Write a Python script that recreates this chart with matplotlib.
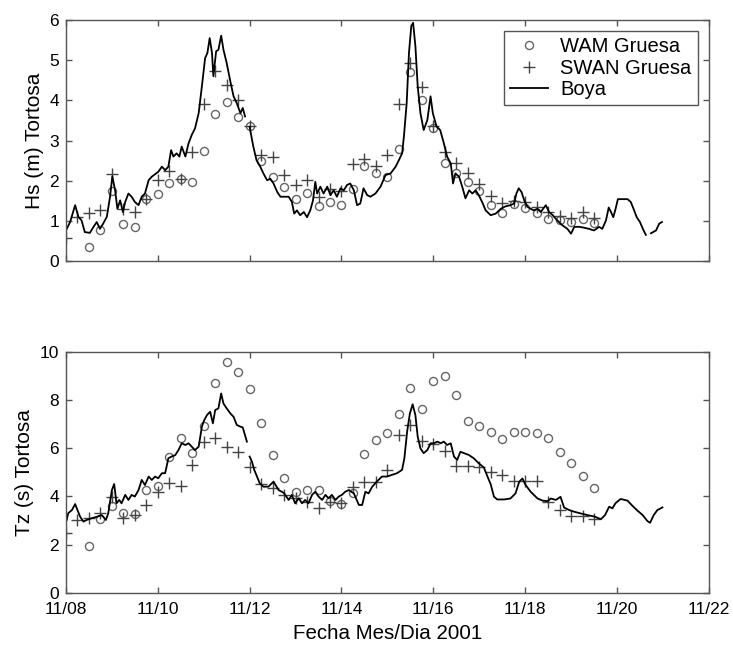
import numpy as np
import matplotlib
matplotlib.use("Agg")
import matplotlib.pyplot as plt

plt.rcParams['font.family'] = ['Liberation Sans', 'DejaVu Sans']

# ---------------- data (days since 11/08 00:00) ----------------
model_days = [0.0, 0.25, 0.5, 0.75, 1.0, 1.25, 1.5, 1.75, 2.0, 2.25, 2.5, 2.75,
              3.0, 3.25, 3.5, 3.75, 4.0, 4.25, 4.5, 4.75, 5.0, 5.25, 5.5, 5.75,
              6.0, 6.25, 6.5, 6.75, 7.0, 7.25, 7.5, 7.75, 8.0, 8.25, 8.5, 8.75,
              9.0, 9.25, 9.5, 9.75, 10.0, 10.25, 10.5, 10.75, 11.0, 11.25, 11.5]

swan_hs = [0.58, 1.1, 1.2, 1.28, 2.16, 1.3, 1.22, 1.55, 2.01, 2.25, 2.03, 2.72,
           3.9, 4.72, 4.39, 4.0, 3.36, 2.64, 2.58, 2.14, 1.88, 2.01, 1.6, 1.78,
           1.75, 2.42, 2.55, 2.36, 2.64, 3.9, 4.93, 4.33, 3.36, 2.72, 2.45, 2.2,
           1.92, 1.63, 1.45, 1.49, 1.48, 1.35, 1.23, 1.12, 1.08, 1.21, 1.07]

wam_hs = [np.nan, np.nan, 0.35, 0.76, 1.74, 0.93, 0.85, 1.55, 1.66, 1.95, 2.03, 1.97,
          2.74, 3.65, 3.97, 3.58, 3.35, 2.49, 2.1, 1.85, 1.55, 1.7, 1.37, 1.48,
          1.4, 1.79, 2.37, 2.2, 2.1, 2.8, 4.7, 4.01, 3.3, 2.43, 2.2, 1.97,
          1.74, 1.4, 1.2, 1.43, 1.33, 1.2, 1.05, 1.01, 0.97, 1.04, 0.95]

swan_tz = [2.46, 3.0, 3.09, 3.29, 3.98, 3.09, 3.22, 3.66, 4.17, 4.54, 4.43, 5.32,
           6.24, 6.42, 6.06, 5.83, 5.2, 4.52, 4.33, 4.05, 3.92, 3.78, 3.5, 3.75,
           3.72, 4.4, 4.6, 4.6, 5.1, 6.55, 6.96, 6.3, 6.17, 5.9, 5.27, 5.25,
           5.23, 5.02, 4.88, 4.62, 4.62, 4.62, 3.78, 3.43, 3.18, 3.17, 3.05]

wam_tz = [np.nan, np.nan, 1.94, 3.05, 3.6, 3.29, 3.27, 4.26, 4.43, 5.64, 6.4, 5.81,
          6.92, 8.71, 9.59, 9.14, 8.44, 7.05, 5.71, 4.76, 4.2, 4.26, 4.28, 3.8,
          3.7, 4.13, 5.74, 6.34, 6.61, 7.41, 8.48, 7.61, 8.8, 9.0, 8.2, 7.12,
          6.93, 6.68, 6.38, 6.65, 6.65, 6.64, 6.43, 5.82, 5.39, 4.84, 4.33]

buoy_hs_days = [0.0, 0.09, 0.2, 0.27, 0.34, 0.41, 0.52, 0.6, 0.67, 0.74, 0.81, 0.89,
                0.96, 1.01, 1.07, 1.12, 1.18, 1.24, 1.29, 1.36, 1.43, 1.5, 1.58, 1.65,
                1.72, 1.8, 1.87, 1.94, 2.01, 2.09, 2.16, 2.23, 2.29, 2.34, 2.41, 2.47,
                2.52, 2.6, 2.67, 2.74, 2.81, 2.89, 2.96, 3.03, 3.08, 3.13, 3.18, 3.21,
                3.27, 3.32, 3.38, 3.43, 3.5, 3.58, 3.65, 3.72, 3.8, 3.85, 3.9, 3.95,
                4.0, 4.08, 4.15, 4.23, 4.3, 4.38, 4.45, 4.52, 4.6, 4.67, 4.74, 4.85,
                4.92, 4.97, 5.03, 5.1, 5.18, 5.25, 5.32, 5.38, 5.43, 5.47, 5.54, 5.61,
                5.69, 5.76, 5.83, 5.9, 5.98, 6.05, 6.12, 6.19, 6.27, 6.34, 6.41, 6.48,
                6.56, 6.63, 6.74, 6.85, 6.96, 7.07, 7.18, 7.25, 7.32, 7.36, 7.42, 7.47,
                7.52, 7.56, 7.61, 7.66, 7.72, 7.79, 7.87, 7.94, 7.99, 8.07, 8.15, 8.23,
                8.3, 8.38, 8.43, 8.48, 8.56, 8.63, 8.7, 8.78, 8.85, 8.92, 8.99, 9.07,
                9.14, 9.25, 9.36, 9.47, 9.57, 9.68, 9.76, 9.81, 9.86, 9.92, 9.98, 10.05,
                10.12, 10.19, 10.27, 10.34, 10.45, 10.52, 10.6, 10.7, 10.81, 10.92, 11.0, 11.07,
                11.18, 11.28, 11.39, 11.5, 11.61, 11.68, 11.76, 11.82, 11.87, 11.92, 11.97, 12.02,
                12.12, 12.23, 12.3, 12.36, 12.43, 12.5, 12.58, 12.63, 12.68, 12.74, 12.85, 12.92,
                12.98]
buoy_hs = [0.76, 0.97, 1.39, 1.1, 1.01, 0.72, 0.7, 0.85, 0.97, 0.8, 0.93, 1.1,
           1.6, 2.11, 1.76, 1.3, 1.51, 1.22, 1.47, 1.68, 1.6, 1.47, 1.39, 1.6,
           1.68, 2.01, 2.1, 2.16, 2.22, 2.35, 2.26, 2.35, 2.76, 2.6, 2.68, 2.6,
           2.85, 2.6, 2.93, 3.14, 3.3, 3.68, 4.35, 5.05, 5.18, 5.55, 5.18, 4.6,
           5.22, 5.26, 5.61, 5.26, 4.93, 4.47, 4.1, 3.93, 3.68, 3.81, 3.6, np.nan,
           3.34, 2.85, 2.51, 2.35, 2.18, 2.01, 2.05, 1.93, 1.72, 1.6, 1.6, 1.6,
           1.47, 1.18, 1.26, 1.14, 1.22, 1.09, 1.26, 1.51, 1.97, 1.68, 1.85, 1.68,
           1.85, 1.64, 1.76, 1.6, 1.81, 1.76, 1.89, 1.93, 1.76, 1.39, 1.43, 1.81,
           1.64, 1.6, 1.68, 1.85, 2.14, 2.18, 2.35, 2.51, 2.68, 3.1, 3.93, 5.18,
           5.85, 5.93, 5.35, 4.35, 3.68, 3.26, 3.51, 4.1, 3.68, 3.35, 3.26, 2.93,
           2.6, 2.43, 1.93, 2.18, 2.1, 1.85, 1.56, 1.76, 1.68, 1.76, 1.64, 1.45,
           1.26, 1.14, 1.18, 1.3, 1.36, 1.39, 1.43, 1.68, 1.81, 1.72, 1.51, 1.35,
           1.3, 1.26, 1.3, 1.22, 1.39, 1.22, 1.14, 1.01, 0.89, 0.8, 0.68, 0.85,
           0.85, 0.83, 0.8, 0.76, 0.85, 0.8, 1.01, 1.33, 1.22, 1.09, 1.3, 1.54,
           1.54, 1.54, 1.47, 1.3, 1.09, 0.97, 0.76, 0.65, np.nan, 0.69, 0.76, 0.93,
           0.97]

buoy_tz_days = [0.0, 0.05, 0.13, 0.2, 0.25, 0.31, 0.38, 0.45, 0.56, 0.67, 0.78, 0.87,
                0.92, 1.0, 1.05, 1.1, 1.16, 1.21, 1.29, 1.36, 1.43, 1.5, 1.58, 1.65,
                1.72, 1.8, 1.87, 1.94, 2.01, 2.09, 2.16, 2.23, 2.3, 2.38, 2.45, 2.52,
                2.6, 2.67, 2.74, 2.81, 2.89, 2.96, 3.01, 3.07, 3.14, 3.2, 3.25, 3.32,
                3.38, 3.43, 3.5, 3.58, 3.65, 3.72, 3.8, 3.85, 3.9, 3.94, 3.97, 4.0,
                4.05, 4.1, 4.16, 4.22, 4.3, 4.41, 4.52, 4.63, 4.74, 4.85, 4.92, 4.99,
                5.07, 5.14, 5.21, 5.28, 5.36, 5.43, 5.5, 5.58, 5.65, 5.72, 5.79, 5.87,
                5.94, 6.01, 6.08, 6.16, 6.27, 6.38, 6.45, 6.52, 6.59, 6.67, 6.77, 6.88,
                6.99, 7.1, 7.21, 7.32, 7.37, 7.43, 7.49, 7.55, 7.61, 7.66, 7.72, 7.79,
                7.87, 7.94, 8.01, 8.09, 8.16, 8.23, 8.3, 8.38, 8.45, 8.52, 8.59, 8.67,
                8.77, 8.88, 8.99, 9.1, 9.18, 9.25, 9.32, 9.39, 9.54, 9.68, 9.79, 9.87,
                9.94, 10.01, 10.12, 10.27, 10.38, 10.49, 10.56, 10.67, 10.77, 10.85, 10.96, 11.07,
                11.21, 11.36, 11.51, 11.65, 11.74, 11.83, 11.9, 11.97, 12.08, 12.23, 12.34, 12.45,
                12.56, 12.66, 12.72, 12.8, 12.88, 12.99]
buoy_tz = [2.9, 3.3, 3.43, 3.68, 3.43, 3.15, 2.95, 3.02, 3.09, 3.15, 3.22, 3.02,
           3.29, 4.26, 4.51, 3.71, 3.85, 3.71, 4.06, 3.85, 4.06, 3.99, 4.26, 4.68,
           4.47, 4.82, 4.68, 4.82, 4.75, 4.96, 4.96, 5.58, 5.65, 5.71, 5.92, 6.2,
           6.13, 6.2, 6.06, 5.92, 6.06, 6.89, 7.16, 7.37, 7.51, 7.03, 7.58, 7.65,
           8.27, 7.85, 7.65, 7.44, 7.3, 6.96, 6.89, 6.86, 6.54, 6.27, np.nan, 5.65,
           5.44, 5.1, 4.82, 4.54, 4.4, 4.4, 4.61, 4.26, 4.15, 3.85, 4.06, 3.71,
           3.92, 3.71, 3.85, 3.71, 4.06, 4.19, 3.99, 3.85, 4.06, 3.92, 4.06, 3.85,
           3.99, 4.06, 4.19, 4.26, 4.12, 3.64, 3.64, 4.19, 4.12, 4.4, 4.61, 4.82,
           4.82, 4.89, 4.96, 5.1, 5.58, 6.69, 7.44, 7.82, 7.37, 6.48, 5.99, 5.79,
           5.92, 6.2, 6.2, 6.27, 6.2, 6.27, 6.13, 6.2, 5.65, 5.51, 5.85, 5.79,
           5.72, 5.58, 5.37, 5.2, 4.82, 4.5, 3.99, 3.87, 3.87, 3.91, 4.12, 4.6,
           4.74, 4.47, 4.19, 3.91, 3.82, 3.8, 3.91, 3.85, 3.98, 3.53, 3.43, 3.36,
           3.29, 3.22, 3.16, 3.05, 3.22, 3.57, 3.5, 3.72, 3.89, 3.82, 3.6, 3.4,
           3.22, 2.98, 2.9, 3.22, 3.43, 3.54]

xtick_days = [0, 2, 4, 6, 8, 10, 12, 14]
xtick_labels = ['11/08', '11/10', '11/12', '11/14', '11/16', '11/18', '11/20', '11/22']
series_labels = ['WAM Gruesa', 'SWAN Gruesa', 'Boya']

# ---------------- figure ----------------
fig = plt.figure(figsize=(7.33, 6.46), dpi=100)
ax1 = fig.add_axes([0.090, 0.596, 0.877, 0.373])
ax2 = fig.add_axes([0.090, 0.0825, 0.877, 0.373])

spine_c = '#555555'
circ_c = '#666666'
plus_c = '#444444'

def draw(ax, wam, swan, bd, bv):
    ax.plot(model_days, wam, linestyle='none', marker='o', markersize=5.8,
            markerfacecolor='none', markeredgecolor=circ_c, markeredgewidth=1.0,
            label=series_labels[0])
    ax.plot(model_days, swan, linestyle='none', marker='+', markersize=9,
            color=plus_c, markeredgewidth=1.0, label=series_labels[1])
    ax.plot(bd, bv, color='black', linewidth=1.3, label=series_labels[2])
    ax.set_xlim(0, 14)
    ax.set_xticks(xtick_days)
    for s in ax.spines.values():
        s.set_color(spine_c)
        s.set_linewidth(1.0)
    ax.tick_params(direction='in', length=4, width=1.0, color=spine_c,
                   top=True, right=True, labelsize=12.5)
    ax.tick_params(axis='x', pad=6.5)
    ax.tick_params(axis='y', pad=5)

draw(ax1, wam_hs, swan_hs, buoy_hs_days, buoy_hs)
draw(ax2, wam_tz, swan_tz, buoy_tz_days, buoy_tz)

ax1.set_ylim(0, 6)
ax1.set_yticks([0, 1, 2, 3, 4, 5, 6])
ax1.set_xticklabels([])
ax1.set_ylabel('Hs (m) Tortosa', fontsize=15, labelpad=4)

ax2.set_ylim(0, 10)
ax2.set_yticks([0, 2, 4, 6, 8, 10])
ax2.set_xticklabels(xtick_labels)
ax2.set_ylabel('Tz (s) Tortosa', fontsize=15, labelpad=4)
ax2.set_xlabel('Fecha Mes/Dia 2001', fontsize=14.8, labelpad=5)

leg = ax1.legend(loc='upper right', fontsize=14.5, frameon=True, fancybox=False,
                 edgecolor=spine_c, framealpha=1, labelspacing=0.12,
                 handlelength=1.9, handletextpad=0.6, borderpad=0.3,
                 borderaxespad=0.55)
leg.get_frame().set_linewidth(1.0)

fig.savefig('out.png', dpi=100, facecolor='white')
